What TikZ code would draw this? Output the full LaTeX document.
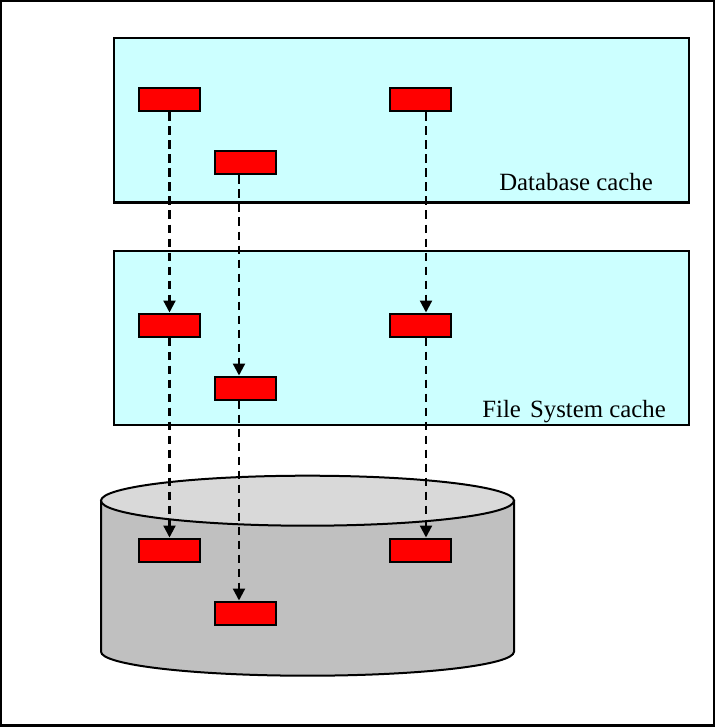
\documentclass[tikz,border=0pt]{standalone}
\usepackage{fontspec}
\setmainfont{Liberation Serif}
\usetikzlibrary{arrows.meta,calc}
\definecolor{cachecyan}{HTML}{CCFFFF}
\definecolor{diskside}{HTML}{C0C0C0}
\definecolor{disktop}{HTML}{D9D9D9}
\definecolor{blockred}{HTML}{FF0000}
\tikzset{
  cachebox/.style={draw=black, line width=2.2pt, fill=cachecyan},
  block/.style={draw=black, line width=2pt, fill=blockred, minimum width=61pt, minimum height=23pt, inner sep=0pt},
  flow/.style={draw=black, line width=2.2pt, dash pattern=on 8.5pt off 5.5pt, -{Triangle[width=12pt,length=12pt]}, shorten >=0pt},
  lbl/.style={font=\fontsize{24.8pt}{28pt}\selectfont, inner sep=0pt, anchor=base east}
}
\begin{document}
\begin{tikzpicture}[x=1pt,y=-1pt]
\useasboundingbox (0,0) rectangle (715,727);
\draw[line width=2.2pt] (1,1) rectangle (714,725.5);
% cache boxes
\path[cachebox] (114,38) rectangle (689,202.5);
\path[cachebox] (114,251) rectangle (689,425);
\node[lbl] (dblabel) at (653,191) {Database cache};
\node[lbl] (fslabel) at (666,417) {File\hspace{3pt} System cache};
% disk cylinder
\draw[line width=2pt, fill=diskside] (101,500.7) -- (101,651.7)
  arc[start angle=180, end angle=360, x radius=206.5pt, y radius=24pt]
  -- (514,500.7) -- cycle;
\draw[line width=2pt, fill=disktop] (307.5,500.7) ellipse [x radius=206.5pt, y radius=25pt];
% blocks
\node[block] (d1) at (169.5,100) {};
\node[block] (d2) at (245,163) {};
\node[block] (d3) at (420,100) {};
\node[block] (f1) at (169.5,325) {};
\node[block] (f2) at (245,388) {};
\node[block] (f3) at (420,325) {};
\node[block] (k1) at (169.5,550) {};
\node[block] (k2) at (245,613) {};
\node[block] (k3) at (420,550) {};
% arrows
\draw[flow] (d1.south) -- (f1.north);
\draw[flow] ($(d2.south)+(-6,0)$) -- ($(f2.north)+(-6,0)$);
\draw[flow] ($(d3.south)+(6,0)$) -- ($(f3.north)+(6,0)$);
\draw[flow] (f1.south) -- (k1.north);
\draw[flow] ($(f2.south)+(-6,0)$) -- ($(k2.north)+(-6,0)$);
\draw[flow] ($(f3.south)+(6,0)$) -- ($(k3.north)+(6,0)$);
\end{tikzpicture}
\end{document}
